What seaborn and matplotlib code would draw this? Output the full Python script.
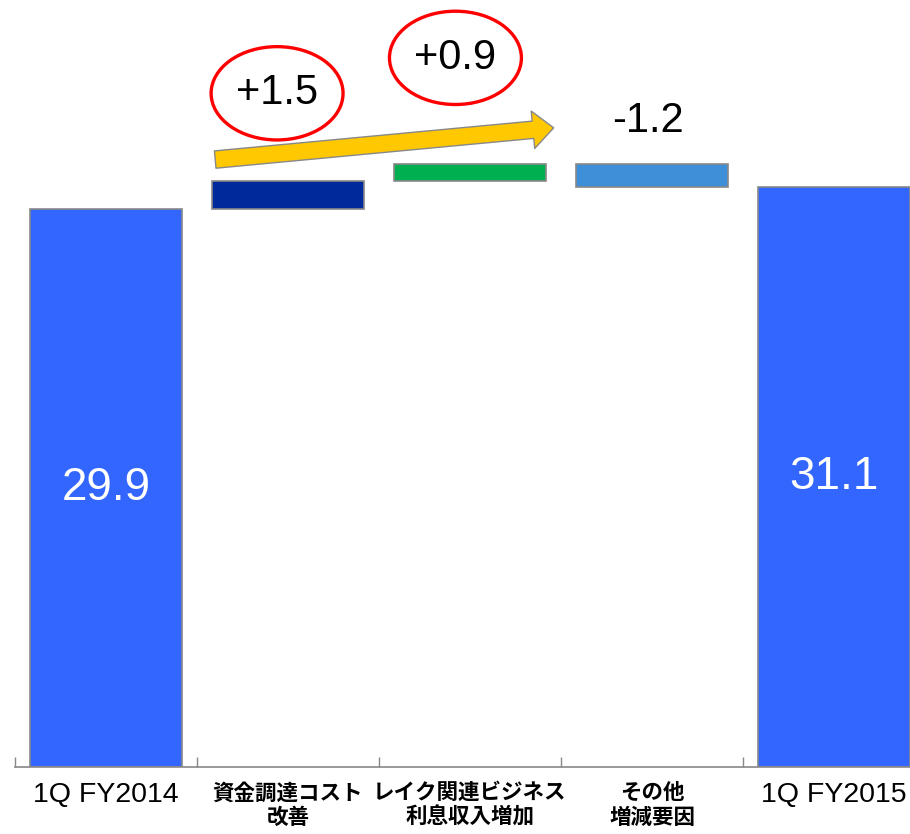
import matplotlib
matplotlib.use("Agg")
import matplotlib.pyplot as plt
import seaborn as sns
import numpy as np
from matplotlib.patches import Ellipse, FancyArrowPatch

# data
categories = ['1Q FY2014', '資金調達コスト\n改善', 'レイク関連ビジネス\n利息収入増加', 'その他\n増減要因', '1Q FY2015']
heights = [29.9, 1.5, 0.9, 1.2, 31.1]
bottoms = [0.0, 29.9, 31.4, 31.1, 0.0]
total_labels = ['29.9', '', '', '', '31.1']
delta_labels = ['+1.5', '+0.9', '-1.2']
bar_colors = ['#3366FF', '#00299B', '#00B050', '#3F8ED8', '#3366FF']

sns.set_style("white")
plt.rcParams['font.family'] = ['Liberation Sans', 'Noto Sans CJK JP', 'DejaVu Sans']
plt.rcParams['text.color'] = 'black'
plt.rcParams['xtick.color'] = 'black'

fig = plt.figure(figsize=(9.1, 8.34), dpi=100)
ax = fig.add_axes([15 / 910, 1 - 767 / 834, 910 / 910, 767 / 834])

sns.barplot(x=categories, y=heights, bottom=bottoms, color='#3366FF',
            width=0.83, edgecolor='#888888', linewidth=1.2, ax=ax)
for patch, c in zip(ax.patches, bar_colors):
    patch.set_facecolor(c)

ax.set_xlim(-0.5, 4.5)
ax.set_ylim(0, 41.1)

# values inside total bars
for i, lab in enumerate(total_labels):
    if lab:
        ax.text(i, bottoms[i] + heights[i] / 2, lab, color='white', fontsize=33,
                ha='center', va='center')

# change labels with red ellipses
ell_pos = [(0.94, 36.1), (1.92, 38.0)]
for (x, y), lab in zip(ell_pos, delta_labels[:2]):
    ax.add_patch(Ellipse((x, y), 0.725, 5.0, fill=False, edgecolor='#FF0000', lw=2.4))
    ax.text(x, y, lab, fontsize=30, ha='center', va='center', color='black')
ax.text(2.98, 34.6, delta_labels[2], fontsize=30, ha='center', va='center', color='black')

# yellow arrow
arrow = FancyArrowPatch((0.6, 32.55), (2.46, 34.25),
                        arrowstyle='simple,tail_width=1.25,head_width=2.7,head_length=1.5',
                        mutation_scale=10, shrinkA=0, shrinkB=0,
                        facecolor='#FFC800', edgecolor='#888888', lw=1)
ax.add_patch(arrow)

# axes styling
for s in ['top', 'right', 'left']:
    ax.spines[s].set_visible(False)
ax.spines['bottom'].set_color('#888888')
ax.spines['bottom'].set_linewidth(1.2)
ax.set_yticks([])
ax.set_xlabel('')
ax.set_xticks(range(len(categories)))
ax.set_xticklabels(categories)
ax.tick_params(axis='x', which='major', length=0, pad=11, labelcolor='black')
ax.set_xticks(np.arange(-0.5, 5, 1.0), minor=True)
ax.tick_params(axis='x', which='minor', bottom=True, direction='in', length=7,
               color='#888888', width=1)
for t in ax.get_xticklabels():
    t.set_color('black')
    if 'FY' in t.get_text():
        t.set_fontsize(20.5)
    else:
        t.set_fontfamily(['Noto Sans CJK JP', 'DejaVu Sans'])
        t.set_fontsize(15.5)
        t.set_fontweight('bold')
        t.set_linespacing(1.2)

fig.savefig('out.png', dpi=100)
